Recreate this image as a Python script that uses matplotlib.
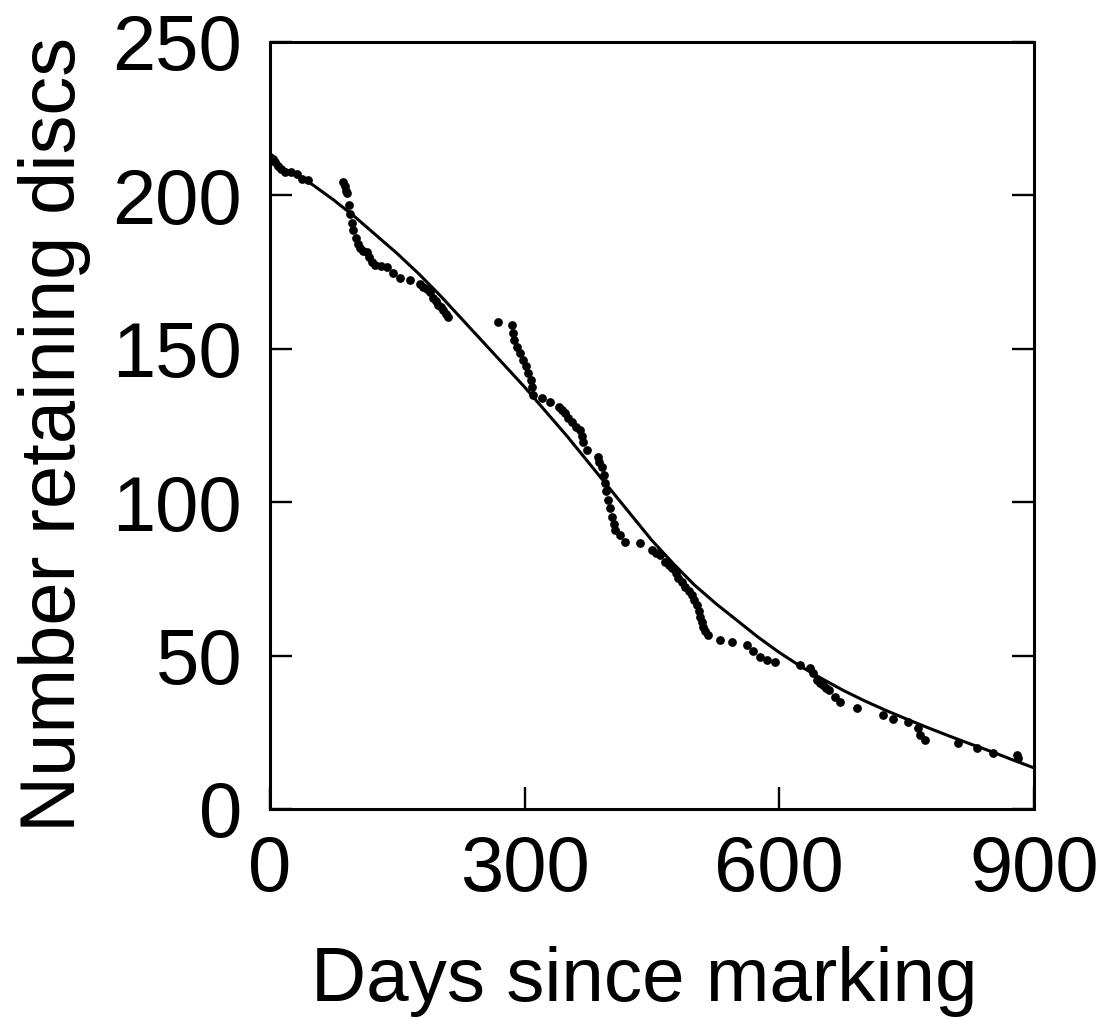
import matplotlib.pyplot as plt

days = [0, 3, 6, 9, 13, 18, 25, 32, 38, 45,
        86, 88, 90, 91, 93, 94, 96, 98, 101, 104, 106, 110, 114, 117, 120, 124,
        131, 138, 145, 153, 165, 177, 180, 185, 188, 192, 195, 198, 201, 204, 207, 210,
        269, 285, 286, 288, 291, 294, 298, 301, 304, 307, 309, 310, 320, 330,
        341, 344, 347, 351, 356, 360, 365, 367, 369, 373, 386, 388, 391, 393, 395,
        396, 398, 400, 403, 405, 406, 412, 418, 436, 450, 455, 459, 465, 470, 474,
        478, 481, 485, 489, 493, 497, 500, 503, 505, 507, 509, 510, 513, 516,
        530, 544, 562, 569, 577, 585, 595,
        624, 636, 640, 644, 648, 651, 655, 659, 666, 671, 691, 722, 734, 752,
        763, 766, 772, 810, 833, 852, 880, 881]
retained = [212.5, 212, 211, 209.5, 208.5, 207.7, 207.5, 207, 205.3, 205,
            204.4, 203, 201.5, 200.8, 197, 194, 191, 188.7, 186, 184, 183, 182, 181.5, 180, 178.3, 177.3,
            177, 176.5, 174.7, 173, 172.4, 171, 170, 169.5, 168.5, 166.6, 165.5, 164.3, 163.5, 162.6, 161.5, 160.4,
            158.7, 157.8, 155, 153, 150.6, 148.5, 146.4, 144.3, 142.1, 139.8, 137.5, 135, 134, 132.7,
            131, 130, 129, 127.5, 126, 124.5, 123.5, 121.5, 119.6, 117, 114.7, 113, 111.5, 109, 106.3,
            103.5, 100.7, 98, 95.2, 93, 90.9, 89.3, 87, 86.7, 84.4, 83.5, 82.8, 80.5, 79.5, 78.6,
            77, 75.3, 74, 72.4, 71, 69.8, 68, 66.5, 64.5, 62.6, 61, 59.3, 58, 56.7,
            55, 54.4, 53.5, 51.5, 49.7, 48.6, 47.9,
            46.9, 46, 44.3, 42, 41.2, 40.4, 39.5, 38.8, 36.5, 34.9, 32.9, 30.6, 29.3, 28.4,
            26.4, 24.1, 22.5, 21.5, 19.9, 18.3, 17.6, 16.6]

# fitted curve (every 25 days)
fit_days = [0, 25, 50, 75, 100, 125, 150, 175, 200, 225, 250, 275, 300,
            325, 350, 375, 400, 425, 450, 475, 500, 525, 550, 575, 600,
            625, 650, 675, 700, 725, 750, 775, 800, 825, 850, 875, 900]
fit_vals = [211, 207.5, 203.5, 198.5, 193, 187, 181, 174.5, 167.5, 160, 152.5, 145, 137.5,
            129.5, 121.5, 113, 104.5, 96, 87.5, 80, 73, 67, 61.5, 56, 51,
            46.5, 42.5, 38.7, 35.3, 32.2, 29.3, 26.5, 23.8, 21.2, 18.7, 16, 13.4]

plt.rcParams['font.family'] = ['Liberation Sans', 'DejaVu Sans']

fig = plt.figure(figsize=(11.08, 10.19), dpi=100)
ax = fig.add_axes([0.2437, 0.2061, 0.6895, 0.7527])

ax.plot(fit_days, fit_vals, color='black', linewidth=2.2)
ax.plot(days, retained, 'o', color='black', markersize=6.3, markeredgewidth=0)

ax.set_xlim(0, 900)
ax.set_ylim(0, 250)
ax.set_xticks([0, 300, 600, 900])
ax.set_yticks([0, 50, 100, 150, 200, 250])

ax.tick_params(direction='in', length=16, width=1.7, labelsize=56,
               right=True, top=False)
ax.tick_params(axis='x', pad=18)
ax.tick_params(axis='y', pad=20)
for s in ax.spines.values():
    s.set_linewidth(2.2)

ax.set_xlabel('Days since marking', fontsize=55)
ax.set_ylabel('Number retaining discs', fontsize=56)
ax.xaxis.set_label_coords(0.49, -0.178)
ax.yaxis.set_label_coords(-0.234, 0.488)

fig.savefig('out.png', dpi=100)
